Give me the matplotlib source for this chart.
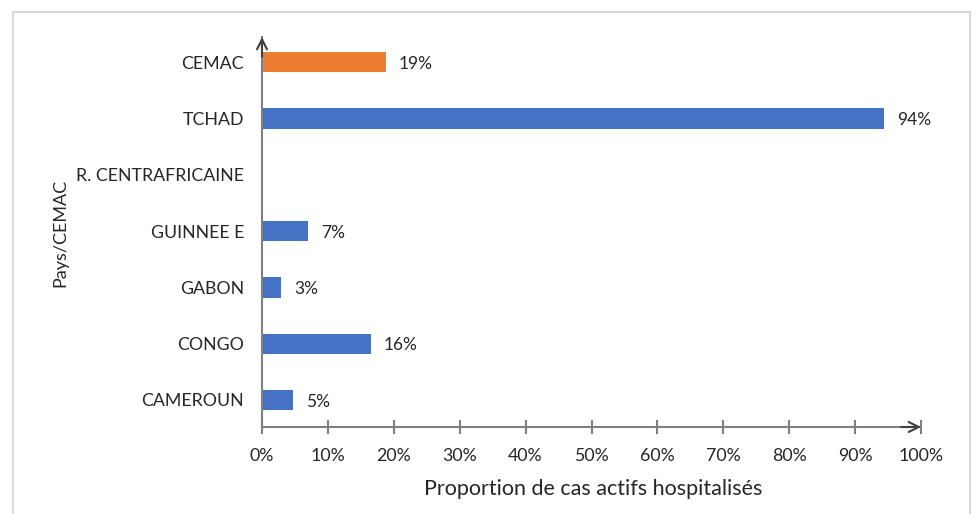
import numpy as np
import matplotlib.pyplot as plt
from matplotlib.patches import Rectangle

pays = ['CAMEROUN', 'CONGO', 'GABON', 'GUINNEE E', 'R. CENTRAFRICAINE', 'TCHAD', 'CEMAC']
proportion = [0.047, 0.165, 0.029, 0.07, None, 0.944, 0.188]
etiquettes = ['5%', '16%', '3%', '7%', '', '94%', '19%']
xticks = np.arange(0, 1.01, 0.1)
xticklabels = ['%d%%' % round(t * 100) for t in xticks]

plt.rcParams['font.family'] = ['Lato', 'DejaVu Sans']
axis_col = '#7f7f7f'
txt_col = '#262626'

fig = plt.figure(figsize=(9.77, 5.14), dpi=100)
ax = fig.add_axes([262 / 977, 1 - 427 / 514, (921 - 262) / 977, (427 - 37) / 514])

# frame around the chart
fig.patches.append(Rectangle((13 / 977, -0.01), (970 - 13) / 977, 1 - 12 / 514 + 0.01,
                             transform=fig.transFigure, fill=False,
                             edgecolor='#d9d9d9', linewidth=1.5))

y = np.arange(len(pays))
for i, v in enumerate(proportion):
    if v is None:
        continue
    col = '#ED7D31' if pays[i] == 'CEMAC' else '#4472C4'
    ax.barh(y[i], v, height=0.36, color=col)
    ax.text(v + 0.02, y[i] - 0.03, etiquettes[i], va='center', ha='left',
            fontsize=12.5, color=txt_col)

ax.set_xlim(0, 1.0)
ax.set_ylim(-0.48, 6.45)
ax.set_yticks(y)
ax.set_yticklabels(pays)
ax.set_xticks(xticks)
ax.set_xticklabels(xticklabels)
ax.tick_params(axis='y', length=0, pad=13, labelsize=12.8, labelcolor=txt_col)
ax.tick_params(axis='x', direction='inout', length=10, width=1.5, color=axis_col,
               pad=10, labelsize=12.8, labelcolor=txt_col)
for s in ['top', 'right']:
    ax.spines[s].set_visible(False)
for s in ['left', 'bottom']:
    ax.spines[s].set_color(axis_col)
    ax.spines[s].set_linewidth(1.5)

# arrow heads
ax.annotate('', xy=(1.0, 0), xytext=(0.97, 0), xycoords=('data', 'axes fraction'),
            textcoords=('data', 'axes fraction'),
            arrowprops=dict(arrowstyle='->', color='#404040', lw=1.5,
                            mutation_scale=18, shrinkA=0, shrinkB=0),
            annotation_clip=False)
ax.annotate('', xy=(0, 1.0), xytext=(0, 0.95), xycoords='axes fraction',
            arrowprops=dict(arrowstyle='->', color='#404040', lw=1.5,
                            mutation_scale=18, shrinkA=0, shrinkB=0),
            annotation_clip=False)

fig.text(593 / 977, 1 - 489 / 514, 'Proportion de cas actifs hospitalisés',
         ha='center', va='center', fontsize=15.5, color=txt_col)
fig.text(60 / 977, 1 - 233 / 514, 'Pays/CEMAC', rotation=90,
         ha='center', va='center', fontsize=13, color=txt_col)

fig.savefig('out.png', dpi=100)
